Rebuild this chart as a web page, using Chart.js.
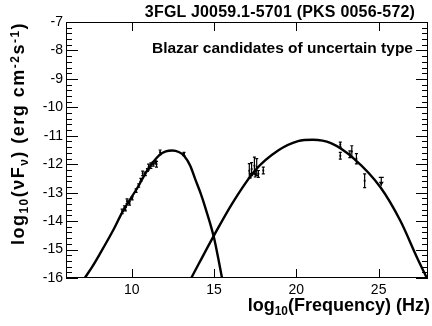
<!DOCTYPE html>
<html>
<head>
<meta charset="utf-8">
<script src="https://cdn.jsdelivr.net/npm/chart.js@4.4.0/dist/chart.umd.min.js"></script>
<style>
  html, body { margin: 0; padding: 0; background: #fff; }
  #wrap { position: relative; width: 432px; height: 326px; font-family: "Liberation Sans", Arial, sans-serif; color: #000; }
  canvas { position: absolute; left: 0; top: 0; }
  .lbl { position: absolute; font-weight: bold; white-space: nowrap; line-height: 22px; }
  .lbl .sb { font-size: 66%; position: relative; top: 0.35em; }
  .lbl .sp { font-size: 66%; position: relative; top: -0.45em; }
</style>
</head>
<body>
<div id="wrap">
  <canvas id="c" width="432" height="326"></canvas>
  <div class="lbl" id="title" style="font-size:16px;letter-spacing:0.2px;left:0;width:432px;top:1px;text-align:center;padding-left:128px;box-sizing:border-box;">3FGL J0059.1-5701 (PKS 0056-572)</div>
  <div class="lbl" id="note" style="font-size:15.5px;left:152px;top:37px;">Blazar candidates of uncertain type</div>
  <div class="lbl" id="xlab" style="font-size:18px;right:2px;top:294px;">log<span class="sb">10</span>(Frequency) (Hz)</div>
  <div class="lbl" id="ylab" style="font-size:18px;letter-spacing:1.5px;left:7px;top:245px;transform:rotate(-90deg);transform-origin:0 0;">log<span class="sb">10</span>(νF<span class="sb">ν</span>) (erg cm<span class="sp">-2</span>s<span class="sp">-1</span>)</div>
</div>
<script>
// 轴范围与刻度
const xMin = 6, xMax = 28;
const yMin = -16, yMax = -7;
const xTicks = [10, 15, 20, 25];

// 同步辐射峰拟合曲线（读图取点）
const syncCurveX = [7.14, 7.6, 8.05, 8.85, 9.45, 10.36, 10.96, 11.66, 12.07, 12.46, 12.85, 13.17, 13.55, 13.87, 14.2, 14.48, 14.98, 15.25, 15.48];
const syncCurveY = [-16, -15.6, -15.16, -14.34, -13.66, -12.81, -12.2, -11.69, -11.55, -11.52, -11.57, -11.7, -12.05, -12.55, -13.05, -13.55, -14.55, -15.3, -16];

// 逆康普顿峰拟合曲线
const icCurveX = [13.61, 14.07, 14.98, 16.08, 17.49, 18.89, 20.1, 21.0, 22.1, 23.51, 25.11, 26.32, 27.33, 27.93];
const icCurveY = [-16, -15.5, -14.52, -13.4, -12.22, -11.52, -11.19, -11.14, -11.26, -11.81, -12.81, -13.99, -15.28, -16];

// 低能段测量点（x, y, 误差）
const syncPtX = [9.41, 9.55, 9.61, 9.71, 9.86, 10.02, 10.26, 10.42, 10.55, 10.66, 10.82, 10.95, 11.02, 11.16, 11.3, 11.42, 11.5, 11.72, 13.17];
const syncPtY = [-13.66, -13.52, -13.58, -13.3, -13.38, -13.2, -12.93, -12.75, -12.55, -12.32, -12.34, -12.2, -12.1, -12.05, -11.99, -11.93, -12.0, -11.58, -11.64];
const syncPtErr = [0.08, 0.06, 0.06, 0.08, 0.06, 0.05, 0.06, 0.06, 0.05, 0.08, 0.06, 0.05, 0.1, 0.1, 0.08, 0.06, 0.1, 0.08, 0.06];

// 高能段测量点
const icPtX = [17.14, 17.2, 17.28, 17.45, 17.5, 17.59, 17.69, 17.99, 22.67, 22.67, 23.25, 23.37, 23.65, 24.15];
const icPtY = [-12.23, -12.4, -12.17, -12.05, -12.35, -12.1, -12.34, -12.22, -11.31, -11.7, -11.65, -11.55, -11.81, -12.58];
const icPtErr = [0.25, 0.08, 0.23, 0.3, 0.1, 0.3, 0.12, 0.12, 0.09, 0.12, 0.12, 0.2, 0.18, 0.24];

// 上限
const ulX = [25.16];
const ulY = [-12.46];
const ulLen = [0.3];

const pts = (xs, ys) => xs.map((x, i) => ({ x, y: ys[i] }));

// 误差棒 + 上限箭头
const errorBars = {
  id: 'errorBars',
  afterDatasetsDraw(chart) {
    const { ctx, scales: { x, y }, chartArea: a } = chart;
    ctx.save();
    ctx.beginPath(); ctx.rect(a.left, a.top, a.right - a.left, a.bottom - a.top); ctx.clip();
    ctx.strokeStyle = '#000'; ctx.fillStyle = '#000'; ctx.lineWidth = 1.2;
    const bar = (xs, ys, es) => xs.forEach((v, i) => {
      const px = x.getPixelForValue(v);
      const p1 = y.getPixelForValue(ys[i] + es[i]), p2 = y.getPixelForValue(ys[i] - es[i]);
      ctx.beginPath(); ctx.moveTo(px, p1); ctx.lineTo(px, p2);
      ctx.moveTo(px - 1.5, p1); ctx.lineTo(px + 1.5, p1);
      ctx.moveTo(px - 1.5, p2); ctx.lineTo(px + 1.5, p2);
      ctx.stroke();
    });
    bar(syncPtX, syncPtY, syncPtErr);
    bar(icPtX, icPtY, icPtErr);
    ulX.forEach((v, i) => {
      const px = x.getPixelForValue(v);
      const p1 = y.getPixelForValue(ulY[i]), p2 = y.getPixelForValue(ulY[i] - ulLen[i]);
      ctx.beginPath(); ctx.moveTo(px - 2.5, p1); ctx.lineTo(px + 2.5, p1);
      ctx.moveTo(px, p1); ctx.lineTo(px, p2); ctx.stroke();
      ctx.beginPath(); ctx.moveTo(px - 2.5, p2 - 4); ctx.lineTo(px + 2.5, p2 - 4); ctx.lineTo(px, p2); ctx.closePath(); ctx.fill();
    });
    ctx.restore();
  }
};

// ROOT 风格边框：四边封闭，刻度朝内
const frame = {
  id: 'frame',
  afterDraw(chart) {
    const { ctx, scales: { x, y }, chartArea: a } = chart;
    ctx.save();
    ctx.strokeStyle = '#000'; ctx.lineWidth = 1;
    ctx.strokeRect(a.left + 0.5, a.top + 0.5, a.right - a.left - 1, a.bottom - a.top - 1);
    ctx.beginPath();
    xTicks.forEach(v => {
      const px = Math.round(x.getPixelForValue(v)) + 0.5;
      ctx.moveTo(px, a.bottom); ctx.lineTo(px, a.bottom - 9);
      ctx.moveTo(px, a.top); ctx.lineTo(px, a.top + 9);
    });
    for (let k = yMin * 5; k <= yMax * 5; k++) {
      const py = Math.round(y.getPixelForValue(k / 5)) + 0.5;
      const len = k % 5 === 0 ? 12 : 6;
      ctx.moveTo(a.left, py); ctx.lineTo(a.left + len, py);
      ctx.moveTo(a.right, py); ctx.lineTo(a.right - len, py);
    }
    ctx.stroke();
    ctx.restore();
  }
};

const tickFont = { family: '"Liberation Sans", Arial, sans-serif', size: 14 };

new Chart(document.getElementById('c'), {
  type: 'scatter',
  data: {
    datasets: [
      { data: pts(syncCurveX, syncCurveY), showLine: true, borderColor: '#000', borderWidth: 2.4, pointRadius: 0, cubicInterpolationMode: 'monotone' },
      { data: pts(icCurveX, icCurveY), showLine: true, borderColor: '#000', borderWidth: 2.4, pointRadius: 0, cubicInterpolationMode: 'monotone' },
      { data: pts(syncPtX, syncPtY), pointRadius: 1.3, pointStyle: 'rect', backgroundColor: '#000', borderColor: '#000', borderWidth: 0 },
      { data: pts(icPtX, icPtY), pointRadius: 1.3, pointStyle: 'rect', backgroundColor: '#000', borderColor: '#000', borderWidth: 0 },
    ],
  },
  options: {
    responsive: false, animation: false, devicePixelRatio: 1,
    layout: { padding: { top: 22, right: 1, left: 0, bottom: 0 } },
    plugins: { legend: { display: false }, tooltip: { enabled: false } },
    scales: {
      x: {
        type: 'linear', min: xMin, max: xMax,
        grid: { display: false, drawTicks: false },
        border: { display: false },
        afterBuildTicks: (s) => { s.ticks = xTicks.map(v => ({ value: v })); },
        afterFit: (s) => { s.height = 48; },
        ticks: { color: '#000', font: tickFont, padding: 4, maxRotation: 0 },
      },
      y: {
        type: 'linear', min: yMin, max: yMax,
        grid: { display: false, drawTicks: false },
        border: { display: false },
        afterFit: (s) => { s.width = 66; },
        ticks: { color: '#000', font: tickFont, padding: 3, stepSize: 1 },
      },
    },
  },
  plugins: [errorBars, frame],
});
</script>
</body>
</html>
